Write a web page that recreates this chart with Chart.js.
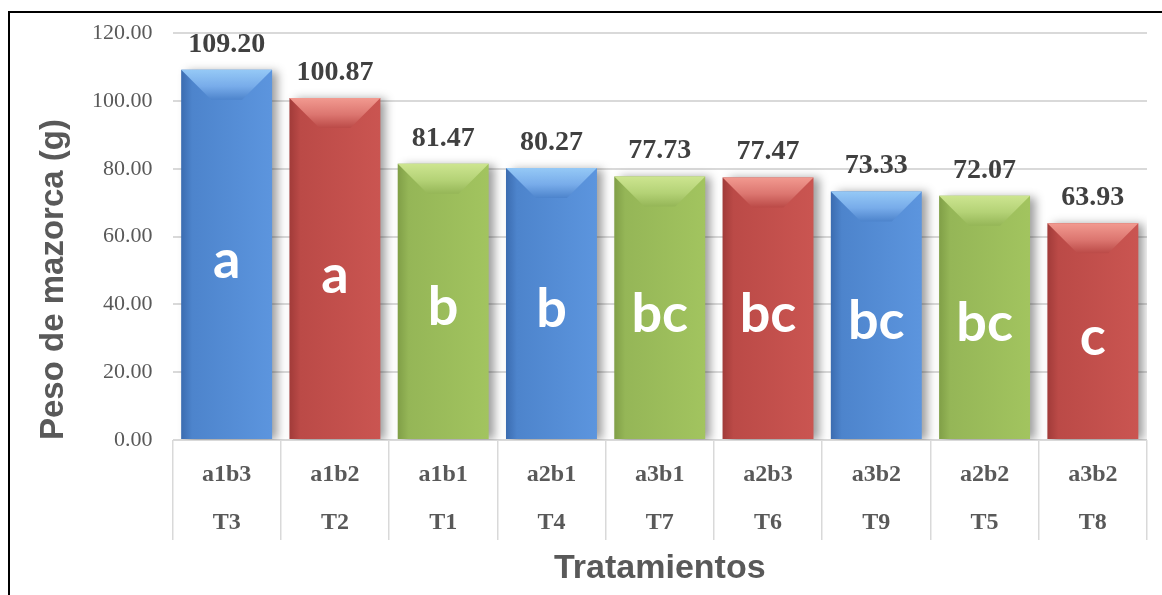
<!DOCTYPE html>
<html>
<head>
<meta charset="utf-8">
<script src="https://cdn.jsdelivr.net/npm/chart.js@4.4.1/dist/chart.umd.min.js"></script>
<style>
  html, body { margin: 0; padding: 0; background: #fff; overflow: hidden; }
  #wrap { position: relative; width: 1162px; height: 595px; }
  #frame { position: absolute; left: 8px; top: 11px; width: 1300px; height: 800px;
           border-left: 2px solid #000; border-top: 2px solid #000; pointer-events: none; }
</style>
</head>
<body>
<div id="wrap">
  <canvas id="c"></canvas>
  <div id="frame"></div>
</div>
<script>
// ---- data ----
const categories = ['a1b3', 'a1b2', 'a1b1', 'a2b1', 'a3b1', 'a2b3', 'a3b2', 'a2b2', 'a3b2'];
const treatments = ['T3', 'T2', 'T1', 'T4', 'T7', 'T6', 'T9', 'T5', 'T8'];
const values = [109.20, 100.87, 81.47, 80.27, 77.73, 77.47, 73.33, 72.07, 63.93];
const letters = ['a', 'a', 'b', 'b', 'bc', 'bc', 'bc', 'bc', 'c'];
const yTickMin = 0, yTickMax = 120, yTickStep = 20;

// ---- styles ----
const palette = {
  blue:  { dark: '#3b6cb0', mid: '#4d84cc', light: '#5c95de', top: '#95c9f6', topMid: '#78acea' },
  red:   { dark: '#a13b39', mid: '#bb4a47', light: '#ca5551', top: '#f29a90', topMid: '#dc7670' },
  green: { dark: '#809f47', mid: '#95b657', light: '#a2c45f', top: '#cde590', topMid: '#b4d276' }
};
const barColors = ['blue', 'red', 'green', 'blue', 'green', 'red', 'blue', 'green', 'red'];
const BAR_FRAC = 0.84;

const labels = categories.map((c, i) => [c, treatments[i]]);

function barGradient(ctx) {
  const chart = ctx.chart;
  const p = palette[barColors[ctx.dataIndex]];
  const xs = chart.scales && chart.scales.x;
  if (!xs || !chart.chartArea) return p.mid;
  const cx = xs.getPixelForValue(ctx.dataIndex);
  const w = (chart.chartArea.width / categories.length) * BAR_FRAC;
  const g = chart.ctx.createLinearGradient(cx - w / 2, 0, cx + w / 2, 0);
  g.addColorStop(0, p.dark);
  g.addColorStop(0.12, p.mid);
  g.addColorStop(1, p.light);
  return g;
}

const decor = {
  id: 'decor',
  beforeDatasetsDraw(chart) {
    const c = chart.ctx;
    c.save();
    c.shadowColor = 'rgba(0,0,0,0.38)';
    c.shadowBlur = 9;
    c.shadowOffsetX = 6;
    c.shadowOffsetY = 1;
  },
  afterDatasetsDraw(chart) {
    const c = chart.ctx;
    c.restore();
    const meta = chart.getDatasetMeta(0);
    meta.data.forEach((el, i) => {
      const p = palette[barColors[i]];
      const L = el.x - el.width / 2, R = el.x + el.width / 2, T = el.y;
      const d = Math.min(30, (el.base - el.y) / 2);
      c.save();
      const g = c.createLinearGradient(0, T, 0, T + d);
      g.addColorStop(0, p.top);
      g.addColorStop(0.55, p.topMid);
      g.addColorStop(1, p.mid);
      c.fillStyle = g;
      c.beginPath();
      c.moveTo(L, T); c.lineTo(R, T); c.lineTo(R - d, T + d); c.lineTo(L + d, T + d);
      c.closePath();
      c.fill();
      c.restore();

      // value label
      c.save();
      c.fillStyle = '#404040';
      c.font = 'bold 28px "Liberation Serif", "Times New Roman", serif';
      c.textAlign = 'center';
      c.textBaseline = 'alphabetic';
      c.fillText(values[i].toFixed(2), el.x, el.y - 18);
      // significance letter
      c.fillStyle = '#ffffff';
      c.font = 'bold 54px Lato, "Open Sans", sans-serif';
      c.fillText(letters[i], el.x, (el.y + el.base) / 2 + 24);
      c.restore();
    });
  }
};

new Chart(document.getElementById('c'), {
  type: 'bar',
  data: {
    labels: labels,
    datasets: [{
      data: values,
      backgroundColor: barGradient,
      borderWidth: 0,
      barPercentage: BAR_FRAC,
      categoryPercentage: 1.0
    }]
  },
  options: {
    responsive: true,
    maintainAspectRatio: false,
    animation: false,
    layout: { padding: { left: 0, right: 15, top: 32, bottom: 0 } },
    plugins: { legend: { display: false }, tooltip: { enabled: false } },
    scales: {
      x: {
        offset: true,
        border: { display: false },
        grid: {
          display: true, offset: true, drawOnChartArea: false, drawTicks: true,
          tickLength: 100, color: '#d9d9d9', lineWidth: 1.5
        },
        ticks: {
          color: '#595959',
          padding: -89,
          font: { family: '"Liberation Serif", "Times New Roman", serif', size: 24, weight: 'bold', lineHeight: 48 / 24 }
        },
        title: {
          display: true, text: 'Tratamientos', color: '#595959',
          font: { family: '"Liberation Sans", Arial, sans-serif', size: 34, weight: 'bold', lineHeight: 1.2 },
          padding: { top: 0, bottom: 6 }
        },
        afterFit(s) { s.height = 155; }
      },
      y: {
        min: yTickMin, max: yTickMax,
        border: { display: false },
        grid: { color: '#d9d9d9', lineWidth: 2, drawTicks: false },
        ticks: {
          stepSize: yTickStep,
          padding: 20,
          color: '#595959',
          font: { family: '"Liberation Serif", "Times New Roman", serif', size: 22 },
          callback: v => Number(v).toFixed(2)
        },
        title: {
          display: true, text: 'Peso de mazorca (g)', color: '#595959', align: 'start',
          font: { family: '"Liberation Sans", Arial, sans-serif', size: 33, weight: 'bold', lineHeight: 1.2 },
          padding: { top: 34, bottom: 0 }
        },
        afterFit(s) { s.width = 172.5; }
      }
    }
  },
  plugins: [decor]
});
</script>
</body>
</html>
